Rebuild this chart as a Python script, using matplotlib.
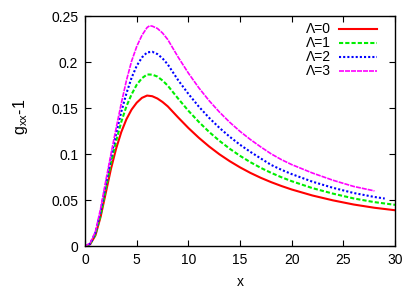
import matplotlib
matplotlib.use("Agg")
import matplotlib.pyplot as plt
from matplotlib.ticker import FuncFormatter

plt.rcParams['font.family'] = ['Liberation Sans', 'DejaVu Sans']
plt.rcParams['mathtext.fontset'] = 'custom'
plt.rcParams['mathtext.rm'] = 'Liberation Sans'
plt.rcParams['mathtext.it'] = 'Liberation Sans'

# Λ=0
x0 = [0, 0.5, 1, 1.5, 2, 2.5, 3, 3.5, 4, 4.5, 5, 5.5, 6, 6.5, 7, 7.5, 8, 9, 10, 11, 12, 13, 14, 15, 16, 17, 18, 19, 20, 22, 24, 26, 28, 30]
y0 = [0, 0.0025, 0.012, 0.032, 0.058, 0.084, 0.106, 0.124, 0.138, 0.1485, 0.156, 0.1612, 0.1637, 0.163, 0.1605, 0.1567, 0.152, 0.140, 0.1285, 0.118, 0.1085, 0.100, 0.0925, 0.0858, 0.0798, 0.0745, 0.0698, 0.0656, 0.0618, 0.0553, 0.0500, 0.0455, 0.0420, 0.0393]
# Λ=1
x1 = [0, 0.5, 1, 1.5, 2, 2.5, 3, 3.5, 4, 4.5, 5, 5.5, 6, 6.5, 7, 7.5, 8, 9, 10, 11, 12, 13, 14, 15, 16, 17, 18, 19, 20, 22, 24, 26, 28, 30]
y1 = [0, 0.003, 0.013, 0.034, 0.062, 0.090, 0.114, 0.135, 0.152, 0.165, 0.1755, 0.1825, 0.1866, 0.1864, 0.1843, 0.180, 0.1745, 0.1605, 0.1472, 0.1352, 0.1243, 0.1146, 0.1060, 0.0983, 0.0914, 0.0853, 0.0799, 0.0751, 0.0708, 0.0633, 0.0573, 0.0521, 0.0481, 0.0452]
# Λ=2
x2 = [0, 0.5, 1, 1.5, 2, 2.5, 3, 3.5, 4, 4.5, 5, 5.5, 6, 6.5, 7, 7.5, 8, 9, 10, 11, 12, 13, 14, 15, 16, 17, 18, 19, 20, 22, 24, 26, 28, 29]
y2 = [0, 0.003, 0.015, 0.038, 0.067, 0.096, 0.122, 0.146, 0.166, 0.183, 0.196, 0.205, 0.2105, 0.2112, 0.2087, 0.2040, 0.1975, 0.1805, 0.1655, 0.1518, 0.1396, 0.1287, 0.1190, 0.1103, 0.1026, 0.0955, 0.0885, 0.0832, 0.0785, 0.0703, 0.0636, 0.0580, 0.0537, 0.0520]
# Λ=3
x3 = [0, 0.5, 1, 1.5, 2, 2.5, 3, 3.5, 4, 4.5, 5, 5.5, 6, 6.25, 6.5, 7, 7.5, 8, 9, 10, 11, 12, 13, 14, 15, 16, 17, 18, 19, 20, 22, 24, 26, 28]
y3 = [0, 0.004, 0.016, 0.041, 0.071, 0.100, 0.128, 0.155, 0.180, 0.201, 0.217, 0.229, 0.2375, 0.2394, 0.2390, 0.2365, 0.2315, 0.2245, 0.2055, 0.1880, 0.1722, 0.1582, 0.1458, 0.1347, 0.1248, 0.1160, 0.1080, 0.1005, 0.0942, 0.0888, 0.0797, 0.0718, 0.0651, 0.0603]

labels = ['Λ=0', 'Λ=1', 'Λ=2', 'Λ=3']
xticks = [0, 5, 10, 15, 20, 25, 30]
yticks = [0, 0.05, 0.1, 0.15, 0.2, 0.25]

fig = plt.figure(figsize=(4.15, 2.91), dpi=100)
ax = fig.add_axes([0.205, 0.153, 0.747, 0.792])

ax.plot(x0, y0, color='#ff0000', lw=1.5, ls='-', label=labels[0])
ax.plot(x1, y1, color='#00ee00', lw=1.5, ls=(0, (2, 1)), label=labels[1])
ax.plot(x2, y2, color='#0000ff', lw=1.5, ls=(0, (1, 1)), label=labels[2])
ax.plot(x3, y3, color='#ff00ff', lw=1.2, ls=(0, (3, 0.6)), label=labels[3])

ax.set_xlim(0, 30)
ax.set_ylim(0, 0.25)
ax.set_xticks(xticks)
ax.set_yticks(yticks)
ax.xaxis.set_major_formatter(FuncFormatter(lambda v, p: '%g' % v))
ax.yaxis.set_major_formatter(FuncFormatter(lambda v, p: '%g' % v))
ax.tick_params(direction='in', length=4, width=0.8, top=True, right=True, labelsize=10, pad=5, colors='black')
for s in ax.spines.values():
    s.set_linewidth(1.0)

ax.set_xlabel('x', fontsize=10, labelpad=5.5)
ax.set_ylabel(r'$\mathregular{g_{xx}}$-1', fontsize=11.5)
ax.yaxis.set_label_coords(-0.178, 0.56)

leg = ax.legend(loc='upper right', frameon=False, markerfirst=False, fontsize=10,
                handlelength=2.7, handletextpad=0.6, labelspacing=0.0,
                borderaxespad=0.0, borderpad=0.3, bbox_to_anchor=(0.955, 0.99))

fig.savefig('out.png', dpi=100)
